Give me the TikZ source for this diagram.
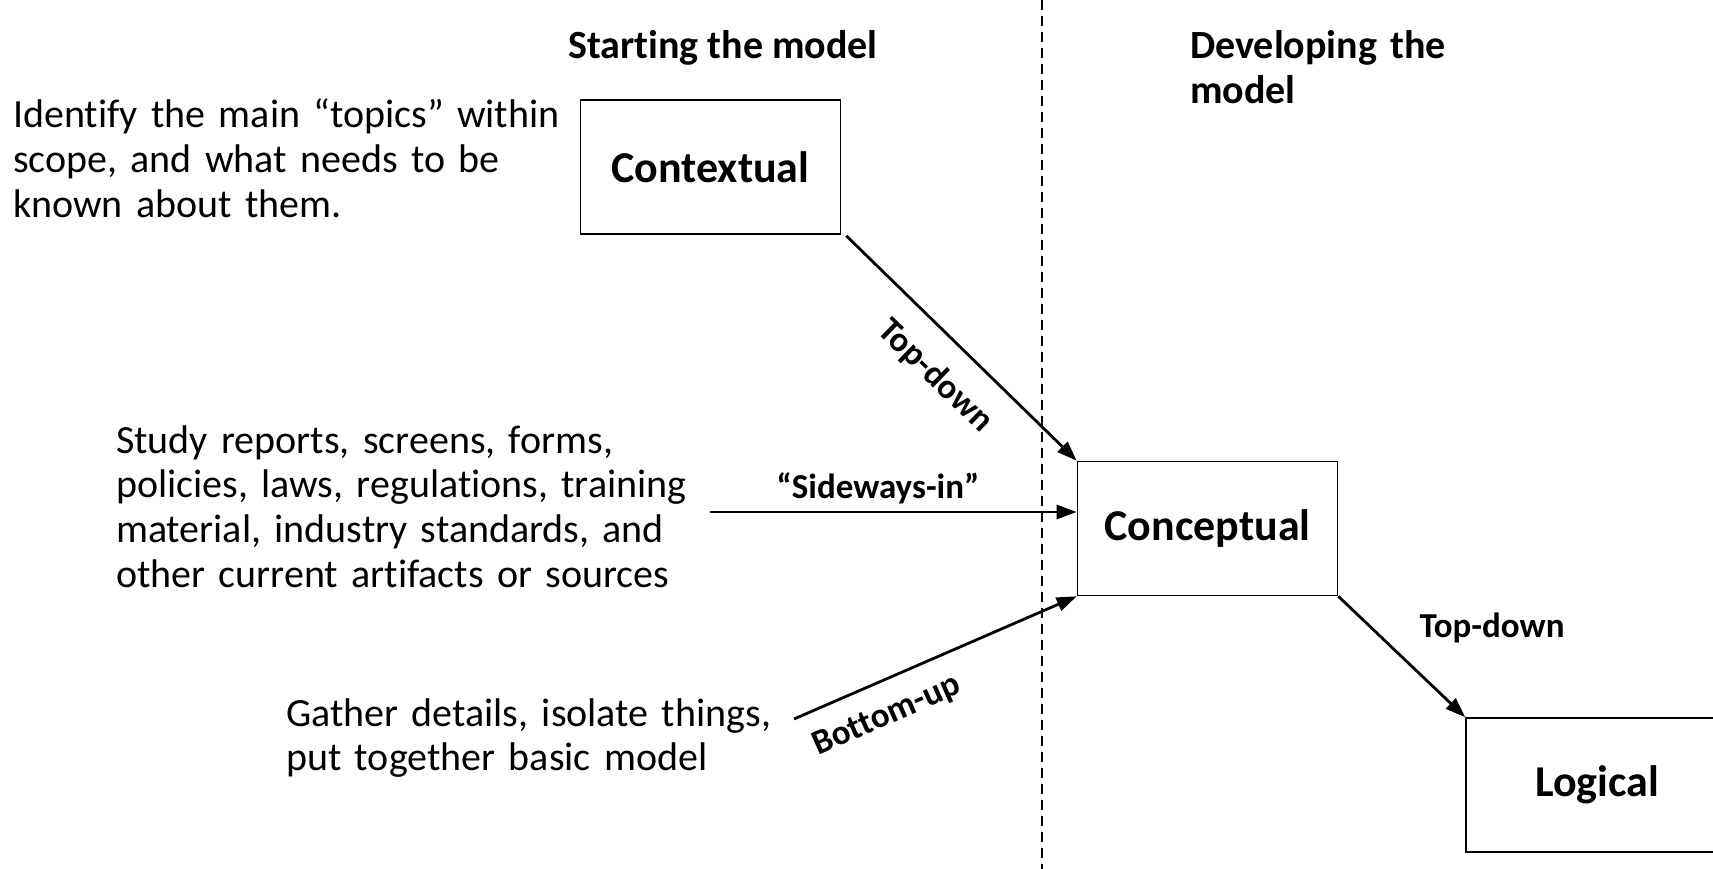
\documentclass[tikz,border=0pt]{standalone}
\usepackage{fontspec}
\setmainfont{Carlito}[Ligatures=NoCommon]
\usetikzlibrary{arrows.meta}
\begin{document}
\begin{tikzpicture}[x=1pt,y=-1pt,
  box/.style={draw, line width=1.6pt, minimum width=260pt, minimum height=134pt, inner sep=0pt, font=\fontsize{44}{50}\selectfont\bfseries},
  body/.style={anchor=base west, inner sep=0pt, align=left, font=\fontsize{40}{44.8}\selectfont},
  head/.style={inner sep=0pt, font=\fontsize{40}{45}\selectfont\bfseries},
  lbl/.style={inner sep=0pt, font=\fontsize{35}{40}\selectfont\bfseries},
  arr/.style={line width=2.8pt, -{Triangle[length=20pt,width=14pt]}},
  divider/.style={line width=1.6pt, dash pattern=on 10pt off 6pt},
]
\useasboundingbox (0,0) rectangle (1713,869);
\coordinate (dtop) at (1042,0);
\coordinate (dbot) at (1042,869);
\draw[divider] (dtop) -- (dbot);

\node[box] (ctx) at (710.5,167) {Contextual};
\node[box] (con) at (1207.5,528.5) {Conceptual};
\node[box, minimum width=262pt] (log) at (1597,785) {Logical};

\node[body, text width=600pt] (t1) at (13,128) {Identify the main “topics” within\\ scope, and what needs to be\\ known about them.};
\node[body, text width=640pt] (t2) at (116,453) {Study reports, screens, forms,\\ policies, laws, regulations, training\\ material, industry standards, and\\ other current artifacts or sources};
\node[body, text width=600pt] (t3) at (286,726) {Gather details, isolate things,\\ put together basic model};

\node[head, anchor=base] (h1) at (723,59) {Starting the model};
\node[head, anchor=base west, text width=400pt, align=left] (h2) at (1190,59) {Developing the\\ model};

\coordinate (sidestart) at (710,512);
\coordinate (bustart) at (794,719);

\draw[arr] ([shift={(5,1)}]ctx.south east) -- (con.north west);
\draw[arr] (sidestart) -- (sidestart -| con.west);
\draw[arr] (bustart) -- (con.south west);
\draw[arr] (con.south east) -- (log.north west);

\node[lbl, rotate=-44] (l1) at (935,376) {Top-down};
\node[lbl, anchor=base] (l2) at (878,498) {“Sideways-in”};
\node[lbl, rotate=23.8] (l3) at (887,716) {Bottom-up};
\node[lbl, anchor=base] (l4) at (1492,637) {Top-down};
\end{tikzpicture}
\end{document}
